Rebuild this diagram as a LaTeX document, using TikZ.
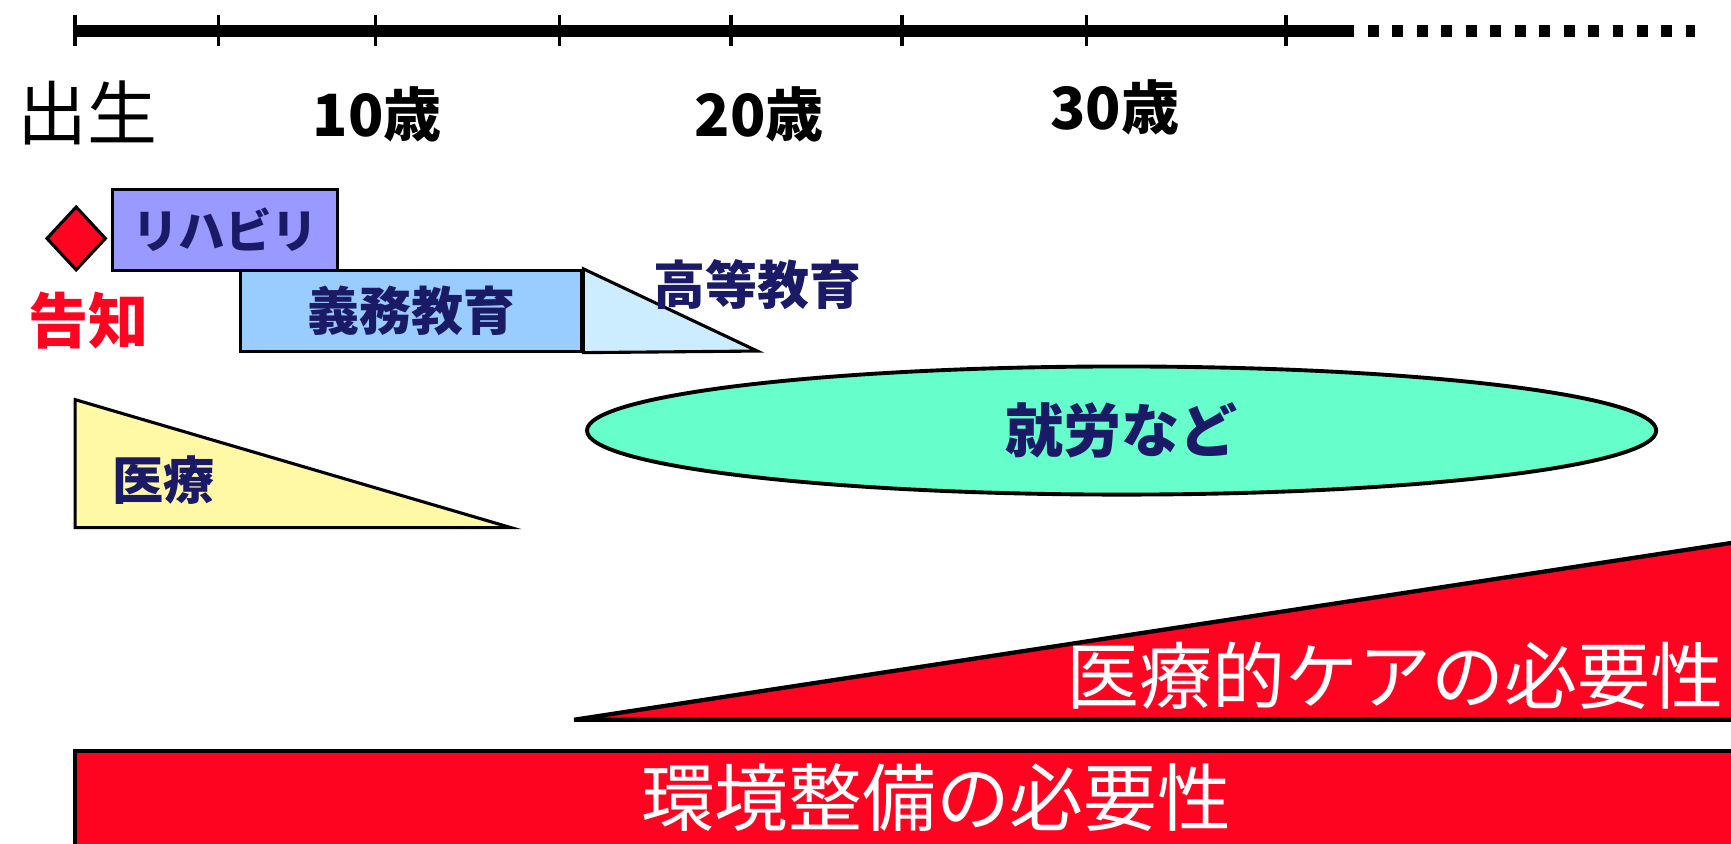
\documentclass[tikz,border=0pt]{standalone}
\usepackage{fontspec}
\setmainfont{Noto Sans CJK JP}
\usetikzlibrary{shapes.geometric}
\definecolor{navy}{RGB}{26,26,102}
\definecolor{redc}{RGB}{255,4,32}
\definecolor{rihab}{RGB}{153,153,255}
\definecolor{gimu}{RGB}{153,204,255}
\definecolor{koto}{RGB}{204,236,255}
\definecolor{iryo}{RGB}{255,248,165}
\definecolor{shuro}{RGB}{102,255,204}
\tikzset{
  fsz/.style={font=\fontsize{#1}{#1}\selectfont},
  boxtxt/.style={text=navy, font=\bfseries\fontsize{#1}{#1}\selectfont},
  outl/.style={draw=black, line width=0.8pt},
  agelbl/.style={text=black, font=\bfseries\fontsize{15pt}{15pt}\selectfont, inner sep=0},
  tickline/.style={line width=0.9pt},
}
\begin{document}
\begin{tikzpicture}[x=0.01cm, y=-0.01cm]
\useasboundingbox (0,0) rectangle (1568,764);
\clip (0,0) rectangle (1568,764);
% timeline
\coordinate (tl0) at (68,28);
\coordinate (tl1) at (1217,28);
\coordinate (tl2) at (1535,28);
\draw[line width=2.9pt] (tl0) -- (tl1);
\draw[line width=2.9pt, dash pattern=on 2.8pt off 3.5pt] (tl1) -- (tl2);
\foreach \x in {68,198,340,507,662,817,984,1165}
  \draw[tickline] (\x,14) -- (\x,42);
\node[font=\fontsize{18pt}{18pt}\selectfont, inner sep=0] (birth) at (79,102) {出生};
\node[agelbl] (a10) at (342,104) {10歳};
\node[agelbl] (a20) at (688,104) {20歳};
\node[agelbl] (a30) at (1010,97) {30歳};
% diamond
\node[diamond, outl, fill=redc, minimum width=0.54cm, minimum height=0.58cm, inner sep=0] (notice) at (69,216) {};
\node[text=redc, font=\bfseries\fontsize{15.5pt}{15.5pt}\selectfont, inner sep=0] (noticelbl) at (80,290) {告知};
% rehab
\node[outl, fill=rihab, minimum width=2.04cm, minimum height=0.73cm, inner sep=0, boxtxt=12pt] (rehab) at (204,208.5) {リハビリ};
% compulsory education
\node[outl, fill=gimu, minimum width=3.09cm, minimum height=0.73cm, inner sep=0, boxtxt=13.4pt] (gimu) at (372.5,281.5) {義務教育};
% higher education triangle
\draw[outl, fill=koto] (gimu.north east) -- (686,318) -- (gimu.south east) -- cycle;
\node[boxtxt=13.4pt, inner sep=0] (koto) at (686,258) {高等教育};
% medical triangle
\coordinate (m1) at (68,362);
\coordinate (m2) at (68,478);
\coordinate (m3) at (463,478);
\draw[outl, fill=iryo] (m1) -- (m2) -- (m3) -- cycle;
\node[boxtxt=13.2pt, inner sep=0] (iryo) at (148,435) {医療};
% employment ellipse
\node[ellipse, draw=black, line width=1pt, fill=shuro, minimum width=9.68cm, minimum height=1.16cm, inner sep=0, boxtxt=15pt] (shuro) at (1016,390) {就労など};
% medical care need triangle
\coordinate (c1) at (520,652);
\coordinate (c2) at (1600,487);
\coordinate (c3) at (1600,652);
\fill[redc] (c1) -- (c2) -- (c3) -- cycle;
\draw[line width=1.1pt] (c2) -- (c1) -- (c3);
\node[text=white, font=\fontsize{18.8pt}{18.8pt}\selectfont, anchor=east, inner sep=0] (care) at (1562,612) {医療的ケアの必要性};
% environment need rectangle
\coordinate (e1) at (68,680);
\coordinate (e2) at (1600,800);
\draw[fill=redc, draw=black, line width=1.1pt] (e1) rectangle (e2);
\node[text=white, font=\fontsize{19pt}{19pt}\selectfont, inner sep=0] (env) at (848,722) {環境整備の必要性};
\end{tikzpicture}
\end{document}
